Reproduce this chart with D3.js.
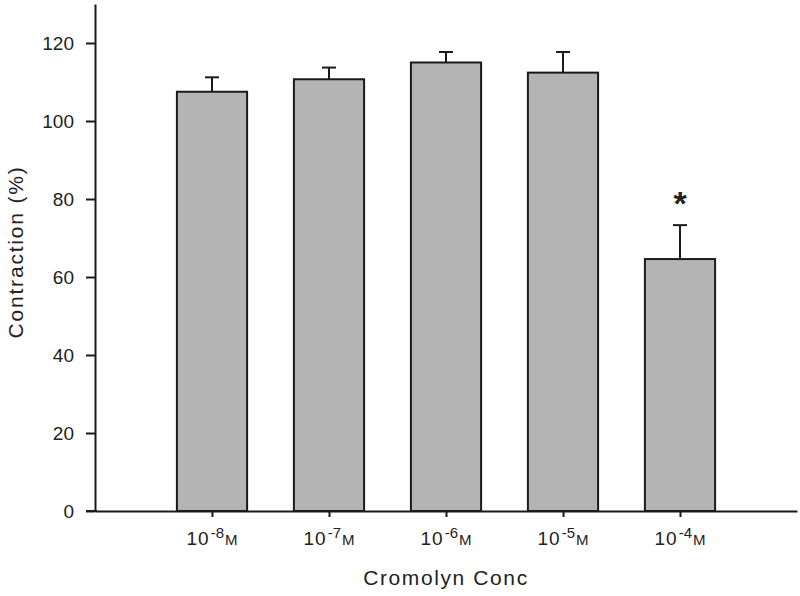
<!DOCTYPE html>
<html><head><meta charset="utf-8">
<script src="https://cdn.jsdelivr.net/npm/d3@7"></script>
<style>
body{margin:0;background:#fff;}
text{font-family:"Liberation Sans",Arial,sans-serif;fill:#222;}
</style></head>
<body><svg id="c" width="800" height="596"></svg>
<script>
const categories = ["-8","-7","-6","-5","-4"];
const values = [107.5, 110.7, 115.0, 112.4, 64.6];
const errors = [3.7, 3.0, 2.7, 5.3, 8.7];
const significant = [false, false, false, false, true];
const yTicks = [0,20,40,60,80,100,120];

const svg = d3.select("#c");
const x = d3.scaleLinear().domain([0,6]).range([95,797]);
const y = d3.scaleLinear().domain([0,130]).range([511,4]);
const barW = 0.6;

const g = svg.append("g");
g.selectAll("rect.bar").data(values).join("rect")
  .attr("x",(d,i)=>x(i+1-barW/2)).attr("width",x(barW)-x(0))
  .attr("y",d=>y(d)).attr("height",d=>y(0)-y(d))
  .attr("fill","#b4b4b4").attr("stroke","#1a1a1a").attr("stroke-width",2);
values.forEach((v,i)=>{
  const cx=x(i+1);
  g.append("line").attr("x1",cx).attr("x2",cx).attr("y1",y(v)).attr("y2",y(v+errors[i]))
    .attr("stroke","#1a1a1a").attr("stroke-width",2);
  g.append("line").attr("x1",cx-7).attr("x2",cx+7).attr("y1",y(v+errors[i])).attr("y2",y(v+errors[i]))
    .attr("stroke","#1a1a1a").attr("stroke-width",2);
  if(significant[i]){
    g.append("text").attr("x",cx).attr("y",y(v+errors[i])-10).attr("text-anchor","middle")
      .attr("font-size",34).attr("font-weight","bold").text("*");
  }
});

const ya = svg.append("g").attr("transform","translate(95,0)")
  .call(d3.axisLeft(y).tickValues(yTicks).tickSize(9).tickSizeOuter(0).tickPadding(12));
ya.select(".domain").attr("stroke","#1a1a1a").attr("stroke-width",2);
ya.selectAll(".tick line").attr("stroke","#1a1a1a").attr("stroke-width",2);
ya.selectAll(".tick text").attr("font-size",19).attr("fill","#222").attr("font-family","Liberation Sans, Arial, sans-serif");

const xa = svg.append("g").attr("transform","translate(0,511)")
  .call(d3.axisBottom(x).tickValues([1,2,3,4,5]).tickSize(6).tickSizeOuter(0).tickFormat(""));
xa.select(".domain").attr("stroke","#1a1a1a").attr("stroke-width",2);
xa.selectAll(".tick line").attr("stroke","#1a1a1a").attr("stroke-width",2);
svg.append("line").attr("x1",86).attr("x2",97).attr("y1",511).attr("y2",511).attr("stroke","#1a1a1a").attr("stroke-width",2);

categories.forEach((c,i)=>{
  const t = svg.append("text").attr("x",x(i+1)).attr("y",545).attr("text-anchor","middle").attr("font-size",19);
  t.append("tspan").attr("letter-spacing",1).text("10");
  t.append("tspan").attr("font-size",15).attr("dy",-7).attr("dx",1).text(c);
  t.append("tspan").attr("font-size",15).attr("dy",7).attr("dx",1).text("M");
});

svg.append("text").attr("x",x(3)).attr("y",585).attr("text-anchor","middle").attr("font-size",21)
  .attr("letter-spacing",1.6).text("Cromolyn Conc");
svg.append("text").attr("transform","translate(23,252) rotate(-90)").attr("text-anchor","middle").attr("font-size",21)
  .attr("letter-spacing",1.8).text("Contraction (%)");
</script></body></html>
